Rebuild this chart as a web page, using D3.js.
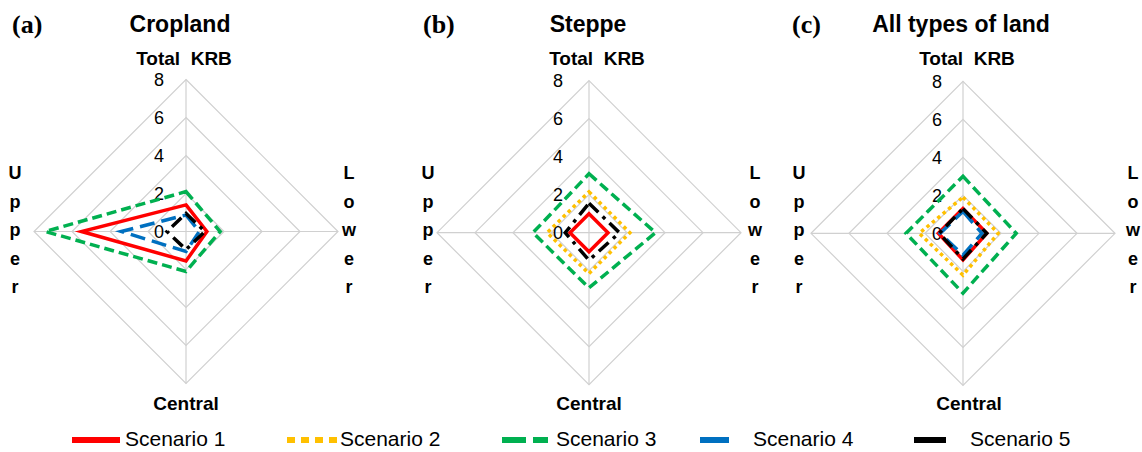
<!DOCTYPE html>
<html>
<head>
<meta charset="utf-8">
<script src="https://cdn.jsdelivr.net/npm/d3@7"></script>
<style>
  body { margin: 0; background: #fff; }
  svg { display: block; }
</style>
</head>
<body>
<div id="chart"></div>
<script>
// <-- ************ GLOBAL CONSTANTS ************ -->
const FRAME_WIDTH = 1142;
const FRAME_HEIGHT = 452;
const RADIUS = 152;

// axes go clockwise from the top
const AXES = ["Total KRB", "Lower", "Central", "Upper"];
const TICKS = [0, 2, 4, 6, 8];
const SCENARIOS = ["Scenario 1", "Scenario 2", "Scenario 3", "Scenario 4", "Scenario 5"];
const PANELS = ["(a)", "(b)", "(c)"];
const TITLES = ["Cropland", "Steppe", "All types of land"];

// values per scenario: [Total KRB, Lower, Central, Upper]
const CROPLAND = [
  [1.4, 1.1, 1.55, 5.5],
  [0, 0, 0, 0],
  [2.1, 1.8, 2.1, 7.4],
  [0.87, 0.7, 1.05, 3.4],
  [0.95, 1.0, 0.95, 1.0]
];
const STEPPE = [
  [1.0, 1.0, 1.0, 1.0],
  [2.15, 2.15, 2.15, 2.2],
  [3.1, 3.5, 2.9, 2.95],
  [0, 0, 0, 0],
  [1.55, 1.6, 1.45, 1.25]
];
const ALL_LAND = [
  [1.3, 1.25, 1.4, 1.3],
  [1.9, 1.85, 2.2, 2.3],
  [3.0, 2.8, 3.15, 3.0],
  [1.15, 1.0, 1.15, 1.2],
  [1.3, 1.25, 1.35, 1.25]
];

const COLOR = d3.scaleOrdinal()
  .domain(SCENARIOS)
  .range(["#ff0000", "#ffc000", "#00b050", "#0070c0", "#000000"]);
const DASH = d3.scaleOrdinal()
  .domain(SCENARIOS)
  .range(["none", "3.5,3.5", "10,5", "15,7", "13,6,3.5,6"]);
const LEGEND_DASH = d3.scaleOrdinal()
  .domain(SCENARIOS)
  .range(["none", "8,6", "24,7", "none", "none"]);

// layout of each panel (hand placed to match the figure)
const LAYOUT = [
  {cx: 186, cy: 231.5, tick: -27, lab: [12, 33], title: 180, top: 184, central: 186, upper: 15, lower: 349},
  {cx: 589, cy: 232.7, tick: -31, lab: [423, 33], title: 588, top: 597, central: 589, upper: 428, lower: 755},
  {cx: 963, cy: 233.3, tick: -26, lab: [792, 33], title: 961, top: 967, central: 969, upper: 799, lower: 1133}
];
const DATA = [CROPLAND, STEPPE, ALL_LAND];

const SANS = "'Liberation Sans', Arial, sans-serif";

const R_SCALE = d3.scaleLinear().domain([0, 8]).range([0, RADIUS]);
function angleOf(i) { return i * Math.PI / 2; }

const SVG = d3.select("#chart")
  .append("svg")
  .attr("width", FRAME_WIDTH)
  .attr("height", FRAME_HEIGHT);

function pt(i, v) {
  const a = angleOf(i);
  return [R_SCALE(v) * Math.sin(a), -R_SCALE(v) * Math.cos(a)];
}

DATA.forEach((series, p) => {
  const L = LAYOUT[p];
  const g = SVG.append("g").attr("transform", "translate(" + L.cx + "," + L.cy + ")");

  // grid rings
  g.selectAll(".ring")
    .data(TICKS.filter((t) => t > 0))
    .enter()
    .append("polygon")
    .attr("points", (t) => AXES.map((a, i) => pt(i, t).join(",")).join(" "))
    .attr("fill", "none")
    .attr("stroke", "#d0d0d0")
    .attr("stroke-width", 1.2);

  // spokes
  g.selectAll(".spoke")
    .data(AXES)
    .enter()
    .append("line")
    .attr("x1", 0).attr("y1", 0)
    .attr("x2", (d, i) => pt(i, 8)[0])
    .attr("y2", (d, i) => pt(i, 8)[1])
    .attr("stroke", "#d0d0d0")
    .attr("stroke-width", 1.2);

  // tick labels
  g.selectAll(".tick")
    .data(TICKS)
    .enter()
    .append("text")
    .attr("x", L.tick)
    .attr("y", (d) => -R_SCALE(d) + 6.5)
    .attr("text-anchor", "middle")
    .attr("font-family", SANS)
    .attr("font-size", "18px")
    .attr("fill", "#000")
    .text((d) => d);

  // series
  const line = d3.line().curve(d3.curveLinearClosed);
  series.forEach((vals, s) => {
    g.append("path")
      .attr("d", line(vals.map((v, i) => pt(i, v))))
      .attr("fill", "none")
      .attr("stroke", COLOR(SCENARIOS[s]))
      .attr("stroke-width", 3.5)
      .attr("stroke-dasharray", DASH(SCENARIOS[s]))
      .attr("stroke-linejoin", "miter");
  });

  // panel letter
  SVG.append("text")
    .attr("x", L.lab[0]).attr("y", L.lab[1])
    .attr("font-family", "'Liberation Serif', 'Times New Roman', serif")
    .attr("font-weight", "bold")
    .attr("font-size", "26px")
    .text(PANELS[p]);

  // title
  SVG.append("text")
    .attr("x", L.title).attr("y", 32)
    .attr("text-anchor", "middle")
    .attr("font-family", SANS)
    .attr("font-weight", "bold")
    .attr("font-size", "23px")
    .text(TITLES[p]);

  // axis names
  SVG.append("text")
    .attr("x", L.top).attr("y", 65)
    .attr("text-anchor", "middle")
    .attr("font-family", SANS)
    .attr("font-weight", "bold")
    .attr("font-size", "19px")
    .attr("xml:space", "preserve")
    .text(AXES[0].replace(" ", "  "));

  SVG.append("text")
    .attr("x", L.central).attr("y", 410)
    .attr("text-anchor", "middle")
    .attr("font-family", SANS)
    .attr("font-weight", "bold")
    .attr("font-size", "19px")
    .text(AXES[2]);

  [[AXES[3], L.upper], [AXES[1], L.lower]].forEach(([word, x]) => {
    SVG.append("g").selectAll("text")
      .data(word.split(""))
      .enter()
      .append("text")
      .attr("x", x)
      .attr("y", (d, k) => 179 + k * 28.5)
      .attr("text-anchor", "middle")
      .attr("font-family", SANS)
      .attr("font-weight", "bold")
      .attr("font-size", "18px")
      .text((d) => d);
  });
});

// <-- ************ LEGEND ************ -->
const LEGEND_POS = [
  {x1: 72, x2: 120, tx: 125},
  {x1: 287, x2: 338, tx: 340},
  {x1: 502, x2: 548, tx: 556},
  {x1: 700, x2: 729, tx: 753},
  {x1: 914, x2: 946, tx: 970}
];

const LEG = SVG.append("g");
LEG.selectAll("line")
  .data(SCENARIOS)
  .enter()
  .append("line")
  .attr("x1", (d, i) => LEGEND_POS[i].x1)
  .attr("x2", (d, i) => LEGEND_POS[i].x2)
  .attr("y1", 440).attr("y2", 440)
  .attr("stroke", (d) => COLOR(d))
  .attr("stroke-width", 6)
  .attr("stroke-dasharray", (d) => LEGEND_DASH(d));

LEG.selectAll("text")
  .data(SCENARIOS)
  .enter()
  .append("text")
  .attr("x", (d, i) => LEGEND_POS[i].tx)
  .attr("y", 446)
  .attr("font-family", SANS)
  .attr("font-size", "21px")
  .attr("fill", "#000")
  .text((d) => d);
</script>
</body>
</html>
